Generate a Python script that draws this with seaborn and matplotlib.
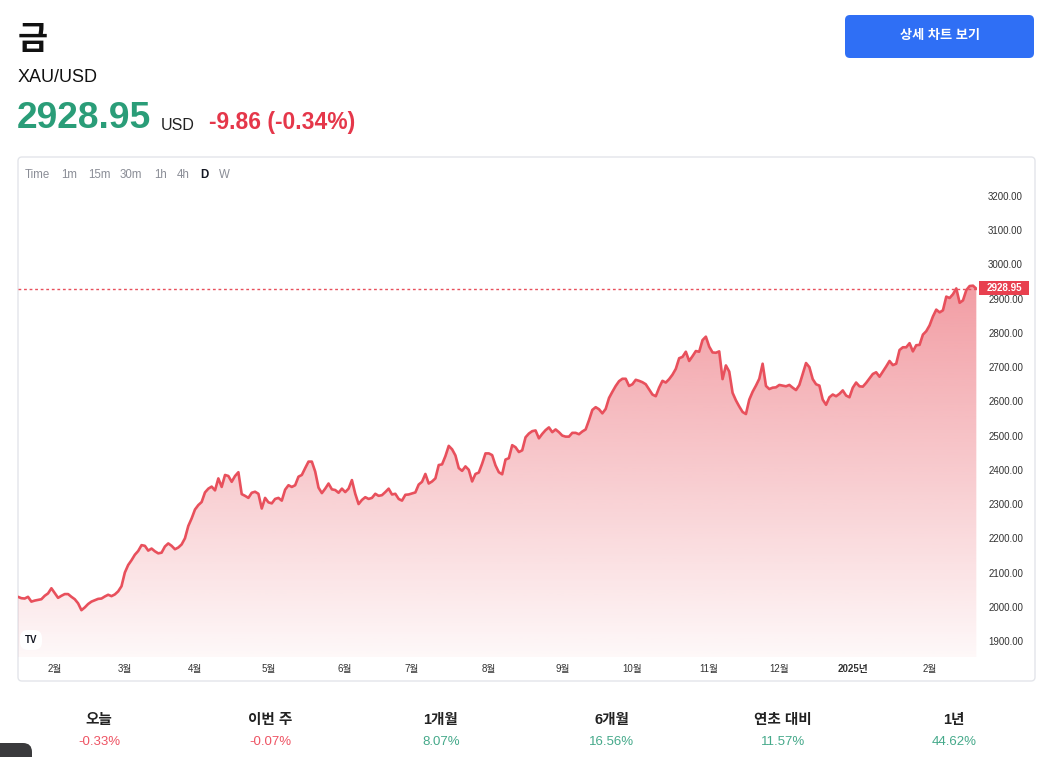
import numpy as np
import pandas as pd
import seaborn as sns
import matplotlib.pyplot as plt
from matplotlib.patches import FancyBboxPatch, Rectangle
from matplotlib.transforms import IdentityTransform
from matplotlib.colors import to_rgb

sns.set_theme(style="white")
plt.rcParams['font.family'] = ['Liberation Sans', 'Noto Sans CJK KR', 'DejaVu Sans']

# XAU/USD daily closes, one per trading day from 2024-01-17
close_part1 = [2029, 2025, 2024, 2029, 2015, 2018, 2020, 2022, 2032, 2039,
               2054, 2040, 2026, 2032, 2037, 2037, 2029, 2022, 2010, 1990,
               1998, 2008, 2015, 2019, 2023, 2024, 2030, 2035, 2031, 2036,
               2045, 2060, 2100, 2122, 2136, 2152, 2163, 2180, 2178, 2164,
               2170, 2162, 2156, 2158, 2176, 2185, 2178, 2168, 2173, 2182,
               2200, 2236, 2258, 2284, 2297, 2306, 2334, 2345, 2351, 2340,
               2375, 2350, 2385, 2382, 2365, 2382, 2393, 2329, 2324, 2318,
               2333, 2336]
close_part2 = [2330, 2287, 2318, 2305, 2302, 2315, 2318, 2310, 2342, 2355,
               2350, 2355, 2380, 2385, 2405, 2424, 2424, 2395, 2348, 2332,
               2345, 2360, 2343, 2341, 2333, 2345, 2335, 2345, 2370, 2330,
               2300, 2312, 2320, 2315, 2318, 2330, 2324, 2326, 2335, 2345,
               2328, 2330, 2315, 2310, 2327, 2328, 2331, 2334, 2357, 2365,
               2388, 2360, 2366, 2375, 2414, 2416, 2440, 2470, 2460, 2442,
               2405, 2397, 2410, 2400, 2366, 2388, 2392, 2418, 2448, 2448,
               2443, 2413]
close_part3 = [2393, 2387, 2430, 2434, 2472, 2466, 2452, 2457, 2495, 2506,
               2513, 2515, 2492, 2505, 2516, 2524, 2510, 2518, 2510, 2500,
               2497, 2497, 2508, 2508, 2504, 2512, 2518, 2545, 2575, 2583,
               2577, 2565, 2578, 2610, 2628, 2645, 2659, 2666, 2666, 2645,
               2650, 2663, 2660, 2656, 2650, 2635, 2620, 2615, 2640, 2660,
               2655, 2665, 2678, 2695, 2726, 2730, 2745, 2718, 2732, 2747,
               2745, 2779, 2789, 2760, 2743, 2742, 2746, 2665, 2705, 2687,
               2625, 2603]
close_part4 = [2585, 2569, 2563, 2605, 2628, 2646, 2666, 2710, 2645, 2636,
               2640, 2641, 2648, 2646, 2644, 2648, 2640, 2633, 2648, 2680,
               2712, 2700, 2665, 2650, 2646, 2605, 2590, 2612, 2620, 2615,
               2622, 2632, 2617, 2612, 2640, 2655, 2644, 2643, 2654, 2667,
               2680, 2685, 2672, 2687, 2702, 2718, 2706, 2710, 2750, 2758,
               2758, 2770, 2746, 2764, 2765, 2795, 2805, 2822, 2848, 2868,
               2860, 2866, 2906, 2902, 2913, 2930, 2888, 2895, 2925, 2937,
               2938, 2928.95]
start_date = "2024-01-17"
last_price = 2928.95
change_text = "-9.86 (-0.34%)"
price_ticks = [1900, 2000, 2100, 2200, 2300, 2400, 2500, 2600, 2700, 2800, 2900, 3000, 3100, 3200]
period_labels = ["오늘", "이번 주", "1개월", "6개월", "연초 대비", "1년"]
period_returns = [-0.33, -0.07, 8.07, 16.56, 11.57, 44.62]
toolbar_items = ["Time", "1m", "15m", "30m", "1h", "4h", "D", "W"]

W, H = 1041, 757
RED = "#e8505c"
GREEN = "#2a9d78"

closes = close_part1 + close_part2 + close_part3 + close_part4
dates = pd.bdate_range(start_date, periods=len(closes))
df = pd.DataFrame({"bar": np.arange(len(closes)), "close": closes, "date": dates})


def fx(x):
    return x / W


def fy(y):
    return 1 - y / H


fig = plt.figure(figsize=(W / 100, H / 100), dpi=100)
fig.patch.set_facecolor("white")

# chart panel frame
fig.add_artist(FancyBboxPatch((18, H - 681), 1017, 524, boxstyle="round,pad=0,rounding_size=4",
                              transform=IdentityTransform(), facecolor="white",
                              edgecolor="#e3e5ea", linewidth=1, zorder=0))

ax = fig.add_axes([fx(18), fy(657), fx(977) - fx(18), fy(185) - fy(657)])
ax.set_facecolor("none")
ymin, ymax = 1853.2, 3232.1
xmax = len(closes) - 1 + 0.2

# gradient area under the line
fill = ax.fill_between(df["bar"], df["close"], ymin, color="none", linewidth=0)
r, g, b = to_rgb(RED)
grad = np.zeros((256, 1, 4))
grad[..., 0], grad[..., 1], grad[..., 2] = r, g, b
grad[:, 0, 3] = np.linspace(0.04, 0.56, 256)
im = ax.imshow(grad, extent=[0, xmax, ymin, df["close"].max()], aspect="auto",
               origin="lower", zorder=1)
im.set_clip_path(fill.get_paths()[0], transform=ax.transData)

sns.lineplot(data=df, x="bar", y="close", ax=ax, color=RED, linewidth=1.9, zorder=3)
ax.axhline(last_price, color=RED, linestyle=(0, (2, 2)), linewidth=1, zorder=2)

ax.set_xlim(0, xmax)
ax.set_ylim(ymin, ymax)
for s in ax.spines.values():
    s.set_visible(False)
ax.set_xlabel("")
ax.set_ylabel("")

# month ticks at the first bar of each month
first_bars = df.groupby(df["date"].dt.to_period("M"))["bar"].min().iloc[1:]
tick_labels = [f"{p.year}년" if p.month == 1 else f"{p.month}월" for p in first_bars.index]
ax.set_xticks(first_bars.values)
ax.set_xticklabels(tick_labels)
for t in ax.get_xticklabels():
    if "년" in t.get_text():
        t.set_fontweight("bold")
ax.yaxis.tick_right()
ax.set_yticks(price_ticks)
ax.set_yticklabels([f"{v:.2f}" for v in price_ticks])
ax.tick_params(axis="x", length=0, pad=5, labelsize=7, labelcolor="#333333")
ax.tick_params(axis="y", length=0, pad=8, labelsize=7, labelcolor="#333333")

# last price tag
fig.add_artist(Rectangle((979, H - 295), 50, 14, transform=IdentityTransform(),
                         facecolor="#e8404f", edgecolor="none", zorder=5))
fig.text(fx(1004), fy(288), f"{last_price:.2f}", color="white", fontsize=7, fontweight="bold",
         ha="center", va="center", zorder=6)

# TradingView badge
fig.add_artist(FancyBboxPatch((20, H - 650), 22, 20, boxstyle="round,pad=0,rounding_size=8",
                              transform=IdentityTransform(), facecolor="white",
                              edgecolor="none", zorder=5))
fig.text(fx(31), fy(640), "TV", fontsize=7, fontweight="heavy", color="#131722",
         ha="center", va="center", zorder=6)

# toolbar
toolbar_x = [25, 61, 88, 120, 154, 177, 200, 219]
for label, x in zip(toolbar_items, toolbar_x):
    active = label == "D"
    fig.text(fx(x), fy(175), label, fontsize=8.3, color="#131722" if active else "#8a8d96",
             fontweight="bold" if active else "normal", ha="left", va="center")

# header
fig.text(fx(18), fy(40), "금", fontsize=23.5, fontweight="bold", color="#111111", va="center")
fig.text(fx(18), fy(78), "XAU/USD", fontsize=13, color="#111111", va="center")
fig.text(fx(17), fy(118), f"{last_price:.2f}", fontsize=26.8, fontweight="bold", color=GREEN,
         va="center")
fig.text(fx(161), fy(125), "USD", fontsize=11.5, color="#222222", va="center")
fig.text(fx(209), fy(123), change_text, fontsize=16.5, fontweight="bold", color="#e5374a",
         va="center")

# button
fig.add_artist(FancyBboxPatch((845, H - 58), 189, 43, boxstyle="round,pad=0,rounding_size=5",
                              transform=IdentityTransform(), facecolor="#2f6ff5",
                              edgecolor="none"))
fig.text(fx(939.5), fy(36), "상세 차트 보기", fontsize=9.5, fontweight="bold", color="white",
         ha="center", va="center")

# period performance row
for cx, lab, val in zip(np.linspace(99, 954, 6), period_labels, period_returns):
    fig.text(fx(cx), fy(720), lab, fontsize=10.5, fontweight="bold", color="#222222",
             ha="center", va="center")
    fig.text(fx(cx), fy(742), f"{val:.2f}%", fontsize=9.5,
             color="#ee5363" if val < 0 else "#45a98a", ha="center", va="center")

# partially visible dark widget in the corner
fig.add_artist(FancyBboxPatch((-12, -12), 44, 26, boxstyle="round,pad=0,rounding_size=9",
                              transform=IdentityTransform(), facecolor="#3a3a3c",
                              edgecolor="none"))

fig.savefig("out.png", dpi=100, facecolor="white")
